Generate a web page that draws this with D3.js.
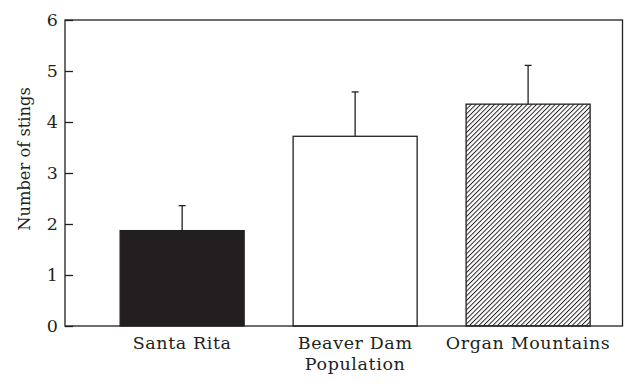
<!DOCTYPE html>
<html>
<head>
<meta charset="utf-8">
<script src="https://cdn.jsdelivr.net/npm/d3@7"></script>
<style>
  body { margin: 0; background: #fff; }
  svg { display: block; }
</style>
</head>
<body>
<svg id="chart" width="625" height="387"></svg>
<script>
const categories = ['Santa Rita', 'Beaver Dam', 'Organ Mountains'];
const means = [1.87, 3.72, 4.35];
const errors = [0.49, 0.87, 0.76];
const fills = ['solid', 'open', 'hatch'];
const yTicks = [0, 1, 2, 3, 4, 5, 6];

const INK = '#231f20';
const FONT = 'DejaVu Serif, Liberation Serif, serif';

const margin = { top: 20, right: 2.5, bottom: 61, left: 65 };
const width = 625 - margin.left - margin.right;
const height = 387 - margin.top - margin.bottom;

const svg = d3.select('#chart');

const defs = svg.append('defs');
const pattern = defs.append('pattern')
  .attr('id', 'hatch')
  .attr('patternUnits', 'userSpaceOnUse')
  .attr('width', 3.3)
  .attr('height', 3.3)
  .attr('patternTransform', 'rotate(45)');
pattern.append('rect')
  .attr('width', 3.3)
  .attr('height', 3.3)
  .attr('fill', '#fff');
pattern.append('line')
  .attr('x1', 0).attr('y1', 0)
  .attr('x2', 0).attr('y2', 3.3)
  .attr('stroke', INK)
  .attr('stroke-width', 1.9);

const g = svg.append('g').attr('transform', `translate(${margin.left},${margin.top})`);

const x = d3.scaleBand()
  .domain(categories)
  .range([0, width])
  .paddingInner(0.283)
  .paddingOuter(0.253)
  .align(0.63);

const y = d3.scaleLinear().domain([0, 6]).range([height, 0]);

// bars
const bars = g.append('g').attr('class', 'bars');
categories.forEach((cat, i) => {
  const fill = fills[i] === 'solid' ? INK : fills[i] === 'hatch' ? 'url(#hatch)' : '#fff';
  bars.append('rect')
    .attr('x', x(cat))
    .attr('y', y(means[i]))
    .attr('width', x.bandwidth())
    .attr('height', height - y(means[i]))
    .attr('fill', fill)
    .attr('stroke', INK)
    .attr('stroke-width', 1.3);

  const cx = x(cat) + x.bandwidth() / 2;
  bars.append('line')
    .attr('x1', cx).attr('x2', cx)
    .attr('y1', y(means[i]))
    .attr('y2', y(means[i] + errors[i]))
    .attr('stroke', INK)
    .attr('stroke-width', 1.3);
  bars.append('line')
    .attr('x1', cx - 3.5).attr('x2', cx + 3.5)
    .attr('y1', y(means[i] + errors[i]))
    .attr('y2', y(means[i] + errors[i]))
    .attr('stroke', INK)
    .attr('stroke-width', 1.3);
});

// frame
g.append('rect')
  .attr('x', 0).attr('y', 0)
  .attr('width', width).attr('height', height)
  .attr('fill', 'none')
  .attr('stroke', INK)
  .attr('stroke-width', 1.3);

// y axis, ticks pointing inward
const yAxis = g.append('g')
  .call(d3.axisLeft(y).tickValues(yTicks).tickSize(0).tickPadding(7).tickFormat(d3.format('d')));
yAxis.select('.domain').remove();
yAxis.selectAll('text')
  .attr('font-family', FONT)
  .attr('font-size', 17.5)
  .attr('fill', INK);
yAxis.selectAll('.tick')
  .append('line')
  .attr('x1', 0).attr('x2', 8)
  .attr('stroke', INK)
  .attr('stroke-width', 1.3);

// x axis labels
const xAxis = g.append('g')
  .attr('transform', `translate(0,${height})`)
  .call(d3.axisBottom(x).tickSize(0).tickPadding(11));
xAxis.select('.domain').remove();
xAxis.selectAll('text')
  .attr('font-family', FONT)
  .attr('font-size', 17.5)
  .attr('letter-spacing', 0.6)
  .attr('fill', INK);

// axis titles
svg.append('text')
  .attr('x', margin.left + x('Beaver Dam') + x.bandwidth() / 2)
  .attr('y', 370)
  .attr('text-anchor', 'middle')
  .attr('font-family', FONT)
  .attr('font-size', 17.5)
  .attr('letter-spacing', 0.6)
  .attr('fill', INK)
  .text('Population');

svg.append('text')
  .attr('transform', 'translate(30,159) rotate(-90)')
  .attr('text-anchor', 'middle')
  .attr('font-family', FONT)
  .attr('font-size', 16.3)
  .attr('fill', INK)
  .text('Number of stings');
</script>
</body>
</html>
